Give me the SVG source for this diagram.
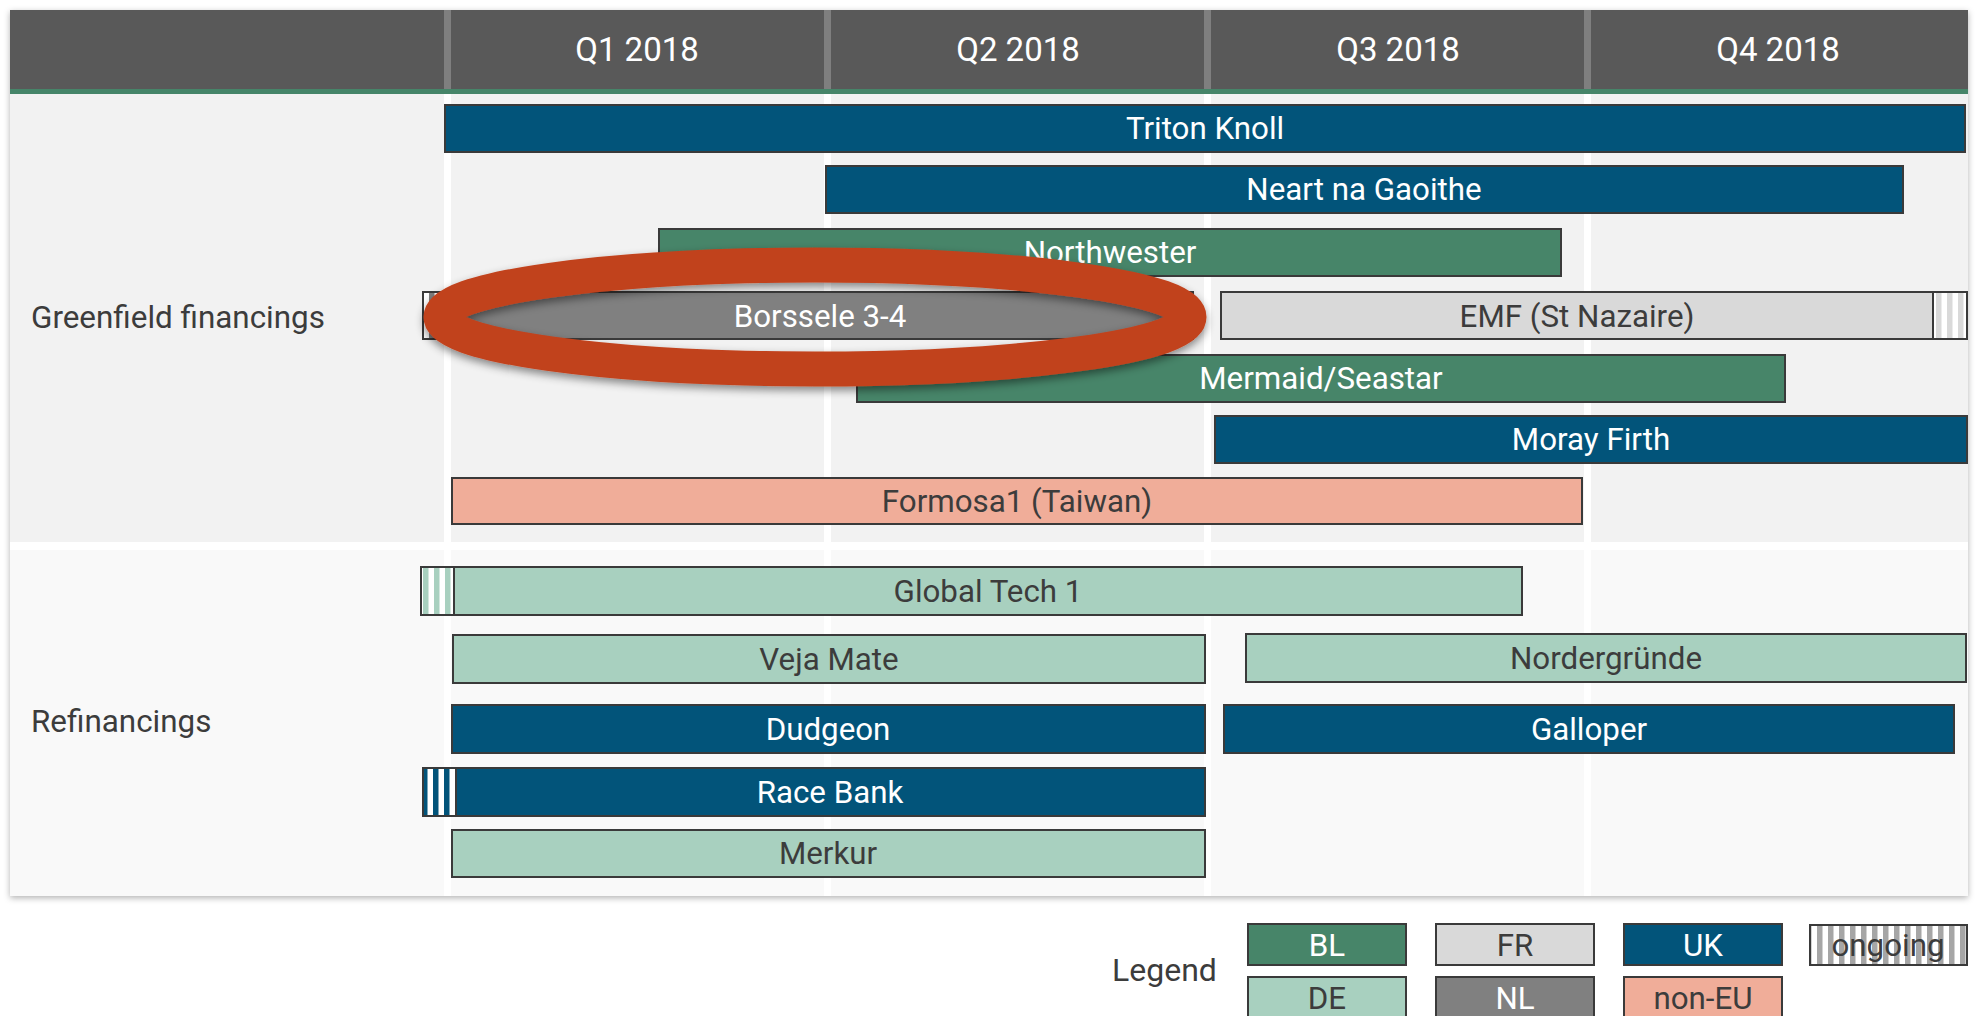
<svg xmlns="http://www.w3.org/2000/svg" width="1975" height="1016" viewBox="0 0 1975 1016">
<style>
text{font-family:Roboto,"Liberation Sans",Arial,sans-serif;}
.hdr{font-size:33px;fill:#ffffff;text-anchor:middle;}
.sec{font-size:31.4px;fill:#3c3c3c;}
.lbl{font-size:31.3px;text-anchor:middle;}
.lw{fill:#ffffff;}
.ld{fill:#3c3c3c;}
.bar{stroke:#3a3a3a;stroke-width:2;}
.UK{fill:#02547a;}
.BL{fill:#478569;}
.DE{fill:#a8d0bf;}
.FR{fill:#d9d9d9;}
.NL{fill:#808080;}
.NEU{fill:#f0ad99;}
.sep{stroke:#3a3a3a;stroke-width:2;}
</style>
<defs>
<filter id="cardShadow" x="-5%" y="-5%" width="110%" height="110%">
<feDropShadow dx="0" dy="2" stdDeviation="3" flood-color="#000" flood-opacity="0.3"/>
</filter>
<filter id="ringShadow" x="-10%" y="-30%" width="120%" height="160%">
<feDropShadow dx="0" dy="4" stdDeviation="4" flood-color="#000" flood-opacity="0.45"/>
</filter>
<pattern id="stNL" patternUnits="userSpaceOnUse" width="11" height="10"><rect width="11" height="10" fill="#ffffff"/><rect x="0" width="5.5" height="10" fill="#808080"/></pattern>
<pattern id="stFR" patternUnits="userSpaceOnUse" width="11" height="10"><rect width="11" height="10" fill="#ffffff"/><rect x="0" width="5.5" height="10" fill="#d9d9d9"/></pattern>
<pattern id="stDE" patternUnits="userSpaceOnUse" width="11" height="10"><rect width="11" height="10" fill="#ffffff"/><rect x="5" width="5.5" height="10" fill="#a8d0bf"/></pattern>
<pattern id="stUK" patternUnits="userSpaceOnUse" width="11" height="10"><rect width="11" height="10" fill="#ffffff"/><rect x="4" width="5.5" height="10" fill="#02547a"/></pattern>
<pattern id="stLG" patternUnits="userSpaceOnUse" width="11" height="10"><rect width="11" height="10" fill="#ffffff"/><rect x="2" width="5.5" height="10" fill="#a6a6a6"/></pattern>
</defs>

<g id="chart-frame">
<rect x="10" y="10" width="1958" height="886" fill="#ffffff" filter="url(#cardShadow)"/>
<rect x="10" y="10" width="1958" height="80" fill="#595959"/>
<rect x="10" y="89" width="1958" height="5" fill="#468569"/>
<rect x="10" y="94" width="1958" height="448" fill="#f2f2f2"/>
<rect x="10" y="542" width="1958" height="8" fill="#ffffff"/>
<rect x="10" y="550" width="1958" height="346" fill="#f9f9f9"/>
<g fill="#7f7f7f">
<rect x="444" y="10" width="7" height="79"/>
<rect x="824" y="10" width="7" height="79"/>
<rect x="1204" y="10" width="7" height="79"/>
<rect x="1584" y="10" width="7" height="79"/>
</g>
<g fill="#ffffff">
<rect x="444" y="94" width="7" height="802"/>
<rect x="824" y="94" width="7" height="802"/>
<rect x="1204" y="94" width="7" height="802"/>
<rect x="1584" y="94" width="7" height="802"/>
</g>
<text class="hdr" x="637" y="61">Q1 2018</text>
<text class="hdr" x="1018" y="61">Q2 2018</text>
<text class="hdr" x="1398" y="61">Q3 2018</text>
<text class="hdr" x="1778" y="61">Q4 2018</text>
<text class="sec" x="31" y="328">Greenfield financings</text>
<text class="sec" x="31" y="732">Refinancings</text>
</g>

<g id="triton-knoll"><rect class="bar UK" x="445" y="105" width="1520" height="47"/><text class="lbl lw" x="1205" y="139">Triton Knoll</text></g>
<g id="neart-na-gaoithe"><rect class="bar UK" x="826" y="166" width="1077" height="47"/><text class="lbl lw" x="1364" y="200">Neart na Gaoithe</text></g>
<g id="northwester"><rect class="bar BL" x="659" y="229" width="902" height="47"/><text class="lbl lw" x="1110" y="263">Northwester</text></g>
<g id="borssele"><rect x="423" y="292" width="24" height="47" fill="url(#stNL)"/><rect class="bar NL" x="447" y="292" width="746" height="47"/><rect x="423" y="292" width="770" height="47" fill="none" class="bar"/><text class="lbl lw" x="820" y="327">Borssele 3-4</text></g>
<g id="emf"><rect class="bar FR" x="1221" y="292" width="712" height="47"/><rect x="1933" y="292" width="34" height="47" fill="url(#stFR)"/><rect x="1221" y="292" width="746" height="47" fill="none" class="bar"/><line class="sep" x1="1933" y1="292" x2="1933" y2="339"/><text class="lbl ld" x="1577" y="327">EMF (St Nazaire)</text></g>
<g id="mermaid-seastar"><rect class="bar BL" x="857" y="355" width="928" height="47"/><text class="lbl lw" x="1321" y="389">Mermaid/Seastar</text></g>
<g id="moray-firth"><rect class="bar UK" x="1215" y="416" width="752" height="47"/><text class="lbl lw" x="1591" y="450">Moray Firth</text></g>
<g id="formosa1"><rect class="bar NEU" x="452" y="478" width="1130" height="46"/><text class="lbl ld" x="1017" y="512">Formosa1 (Taiwan)</text></g>

<g id="global-tech-1"><rect x="421" y="567" width="33" height="48" fill="url(#stDE)"/><rect class="bar DE" x="454" y="567" width="1068" height="48"/><rect x="421" y="567" width="1101" height="48" fill="none" class="bar"/><text class="lbl ld" x="988" y="602">Global Tech 1</text></g>
<g id="veja-mate"><rect class="bar DE" x="453" y="635" width="752" height="48"/><text class="lbl ld" x="829" y="670">Veja Mate</text></g>
<g id="nordergruende"><rect class="bar DE" x="1246" y="634" width="720" height="48"/><text class="lbl ld" x="1606" y="669">Nordergründe</text></g>
<g id="dudgeon"><rect class="bar UK" x="452" y="705" width="753" height="48"/><text class="lbl lw" x="828" y="740">Dudgeon</text></g>
<g id="galloper"><rect class="bar UK" x="1224" y="705" width="730" height="48"/><text class="lbl lw" x="1589" y="740">Galloper</text></g>
<g id="race-bank"><rect x="423" y="768" width="33" height="48" fill="url(#stUK)"/><rect class="bar UK" x="456" y="768" width="749" height="48"/><rect x="423" y="768" width="782" height="48" fill="none" class="bar"/><text class="lbl lw" x="830" y="803">Race Bank</text></g>
<g id="merkur"><rect class="bar DE" x="452" y="830" width="753" height="47"/><text class="lbl ld" x="828" y="864">Merkur</text></g>

<g id="highlight-ring"><ellipse cx="815" cy="317" rx="374" ry="52" fill="none" stroke="#c1421d" stroke-width="35" filter="url(#ringShadow)"/></g>

<g id="legend">
<text x="1112" y="981" font-size="32" fill="#3c3c3c">Legend</text>
<g id="legend-bl"><rect class="bar BL" x="1248" y="924" width="158" height="41"/><text class="lbl lw" x="1327" y="956">BL</text></g>
<g id="legend-fr"><rect class="bar FR" x="1436" y="924" width="158" height="41"/><text class="lbl ld" x="1515" y="956">FR</text></g>
<g id="legend-uk"><rect class="bar UK" x="1624" y="924" width="158" height="41"/><text class="lbl lw" x="1703" y="956">UK</text></g>
<g id="legend-ongoing"><rect class="bar" x="1810" y="925" width="157" height="40" fill="url(#stLG)"/><text class="lbl ld" x="1888" y="956">ongoing</text></g>
<g id="legend-de"><rect class="bar DE" x="1248" y="977" width="158" height="41"/><text class="lbl ld" x="1327" y="1009">DE</text></g>
<g id="legend-nl"><rect class="bar NL" x="1436" y="977" width="158" height="41"/><text class="lbl lw" x="1515" y="1009">NL</text></g>
<g id="legend-noneu"><rect class="bar NEU" x="1624" y="977" width="158" height="41"/><text class="lbl ld" x="1703" y="1009">non-EU</text></g>
</g>
</svg>
